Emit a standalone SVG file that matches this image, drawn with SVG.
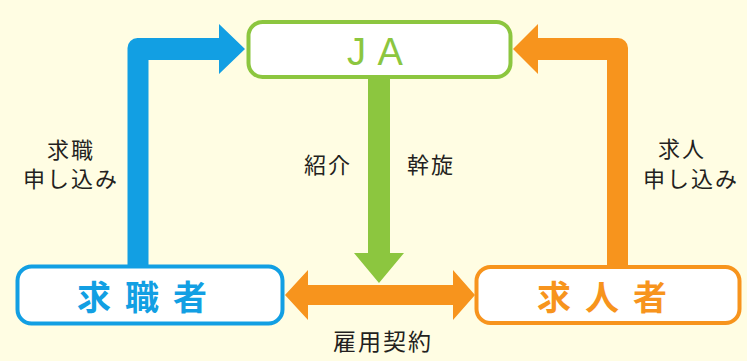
<svg xmlns="http://www.w3.org/2000/svg" width="747" height="361" viewBox="0 0 747 361">
<style>
.box{fill:#ffffff;stroke-width:4}
.lbl{font-family:"Noto Sans CJK JP","Noto Sans",sans-serif;font-size:22px;letter-spacing:2px;fill:#231f20;text-anchor:middle}
.node{font-family:"Noto Sans CJK JP","Noto Sans",sans-serif;font-size:34px;font-weight:700;letter-spacing:14px}
</style>
<rect x="0" y="0" width="747" height="361" fill="#fffde3"/>
<g id="connectors">
<path d="M148.5 266 V60 H219 V74 L245 49 L219 24 V38 H137.5 A10 10 0 0 0 127.5 48 V266 Z" fill="#129fe3"/>
<path d="M607 267 V60 H538 V74 L513 49 L538 24 V38 H618 A10 10 0 0 1 628 48 V267 Z" fill="#f7941d"/>
<path d="M285 295 L308 270 V285 H453 V270 L475 295 L453 320 V305 H308 V320 Z" fill="#f7941d"/>
<path d="M368 77 H390 V253 H404 L379 283 L354 253 H368 Z" fill="#8cc63f"/>
</g>
<g id="ja">
<rect class="box" x="248.5" y="22" width="262" height="55" rx="14" stroke="#8cc63f"/>
<text x="347" y="65" font-family="Liberation Sans, sans-serif" font-size="38" fill="#8cc63f" word-spacing="3">J A</text>
</g>
<g id="kyushokusha">
<rect class="box" x="17.5" y="266.5" width="265" height="57" rx="14" stroke="#129fe3"/>
<text class="node" x="77" y="310" fill="#129fe3">求職者</text>
</g>
<g id="kyujinsha">
<rect class="box" x="476.5" y="267" width="263" height="56" rx="14" stroke="#f7941d"/>
<text class="node" x="537" y="310" fill="#f7941d">求人者</text>
</g>
<g id="labels">
<text class="lbl" x="71" y="158">求職</text>
<text class="lbl" x="71" y="187">申し込み</text>
<text class="lbl" x="328" y="173">紹介</text>
<text class="lbl" x="431" y="173">幹旋</text>
<text class="lbl" x="682" y="157">求人</text>
<text class="lbl" x="691" y="187">申し込み</text>
<text class="lbl" x="383" y="350" style="font-size:23px">雇用契約</text>
</g>
</svg>
